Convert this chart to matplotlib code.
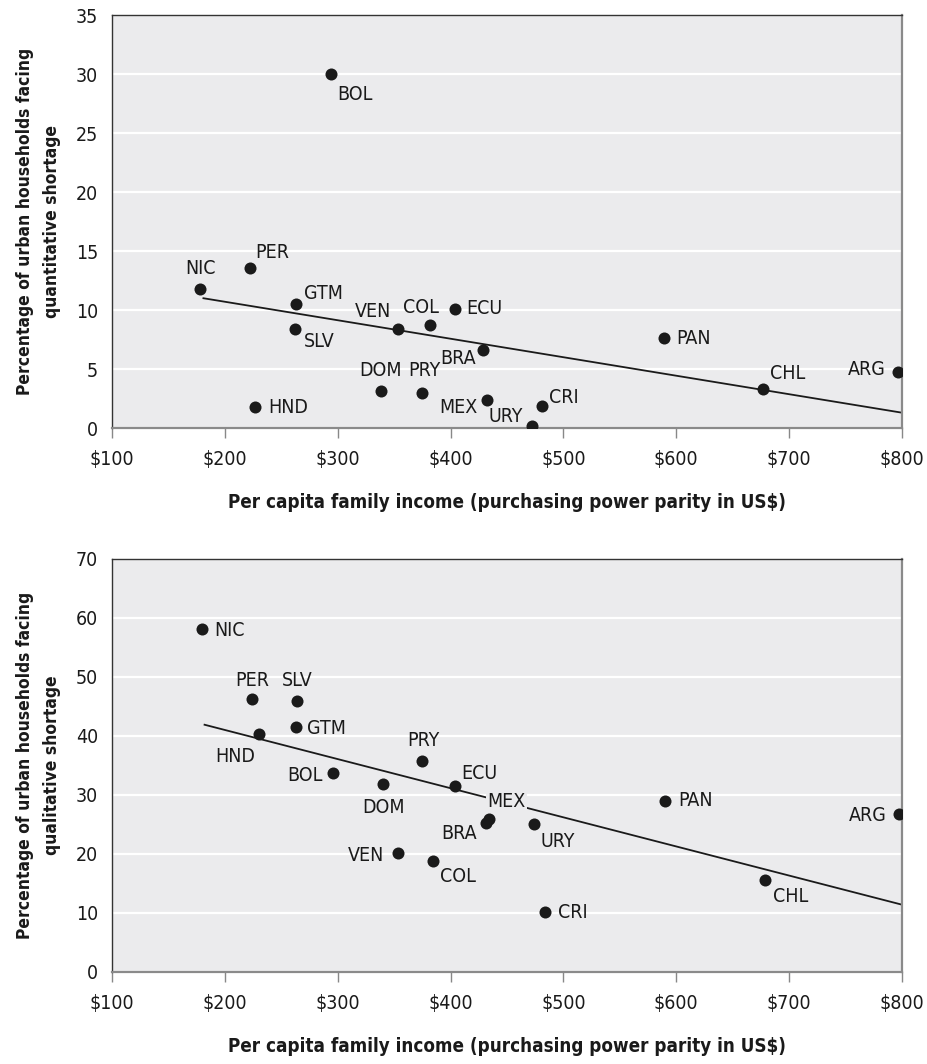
import matplotlib
matplotlib.use('Agg')
import matplotlib.pyplot as plt

plt.rcParams['font.family'] = ['DejaVu Sans']
plt.rcParams['font.stretch'] = 'condensed'

# data
countries_top = ['BOL', 'PER', 'NIC', 'GTM', 'SLV', 'VEN', 'COL', 'ECU', 'DOM', 'PRY',
                 'HND', 'BRA', 'MEX', 'URY', 'CRI', 'PAN', 'CHL', 'ARG']
income_top = [294, 222, 178, 263, 262, 353, 382, 404, 338, 375,
              227, 429, 432, 472, 481, 589, 677, 796]
quant_short = [30.0, 13.6, 11.8, 10.5, 8.4, 8.4, 8.7, 10.1, 3.1, 3.0,
               1.75, 6.6, 2.4, 0.2, 1.9, 7.6, 3.3, 4.75]
trend_top_x = [181, 800]
trend_top_y = [11.0, 1.3]

countries_bot = ['NIC', 'PER', 'SLV', 'GTM', 'HND', 'PRY', 'BOL', 'DOM', 'ECU', 'VEN',
                 'COL', 'BRA', 'MEX', 'URY', 'CRI', 'PAN', 'ARG', 'CHL']
income_bot = [180, 224, 264, 263, 230, 375, 296, 340, 404, 353,
              384, 431, 434, 474, 484, 590, 797, 679]
qual_short = [58.1, 46.2, 45.9, 41.5, 40.4, 35.7, 33.7, 31.8, 31.5, 20.1,
              18.8, 25.3, 26.0, 25.1, 10.2, 29.0, 26.8, 15.6]
trend_bot_x = [182, 800]
trend_bot_y = [41.9, 11.4]

x_ticks = [100, 200, 300, 400, 500, 600, 700, 800]
x_ticklabels = ['$100', '$200', '$300', '$400', '$500', '$600', '$700', '$800']

# label placement: (dx px, dy px downward, ha)
lab_top = {'BOL': (6, 20, 'left'), 'PER': (6, -15, 'left'), 'NIC': (0, -20, 'center'),
           'GTM': (8, -11, 'left'), 'SLV': (9, 13, 'left'), 'VEN': (-6, -17, 'right'),
           'COL': (-9, -18, 'center'), 'ECU': (11, 0, 'left'), 'DOM': (0, -21, 'center'),
           'PRY': (2, -22, 'center'), 'HND': (13, 0, 'left'), 'BRA': (-7, 8, 'right'),
           'MEX': (-9, 8, 'right'), 'URY': (-9, -9, 'right'), 'CRI': (7, -8, 'left'),
           'PAN': (12, 0, 'left'), 'CHL': (7, -16, 'left'), 'ARG': (-12, -2, 'right')}
lab_bot = {'NIC': (12, 1, 'left'), 'PER': (0, -19, 'center'), 'SLV': (0, -21, 'center'),
           'GTM': (11, 1, 'left'), 'HND': (-4, 23, 'right'), 'PRY': (1, -21, 'center'),
           'BOL': (-11, 2, 'right'), 'DOM': (1, 23, 'center'), 'ECU': (6, -13, 'left'),
           'VEN': (-13, 2, 'right'), 'COL': (7, 15, 'left'), 'BRA': (-9, 11, 'right'),
           'MEX': (-2, -17, 'left'), 'URY': (6, 18, 'left'), 'CRI': (13, 1, 'left'),
           'PAN': (13, 0, 'left'), 'ARG': (-12, 2, 'right'), 'CHL': (8, 17, 'left')}

fig = plt.figure(figsize=(9.28, 10.64), dpi=100)
ax1 = fig.add_axes([0.1207, 0.5977, 0.8513, 0.3882])
ax2 = fig.add_axes([0.1207, 0.0865, 0.8513, 0.3882])

xlabel = 'Per capita family income (purchasing power parity in US$)'


def draw(ax, x, y, names, tx, ty, labels, ymax, ystep, ylabel):
    ax.set_facecolor('#ebebed')
    ax.set_axisbelow(True)
    ax.grid(axis='y', color='white', linewidth=1.6)
    ax.plot(tx, ty, color='#1a1a1a', linewidth=1.3, zorder=2)
    ax.scatter(x, y, s=75, color='#1a1a1a', zorder=3, linewidths=0)
    for xi, yi, n in zip(x, y, names):
        dx, dy, ha = labels[n]
        box = None
        if ax is ax2 and n == 'MEX':
            box = dict(facecolor='#ebebed', edgecolor='none', pad=1)
        ax.annotate(n, (xi, yi), xytext=(dx, -dy), textcoords='offset pixels',
                    ha=ha, va='center', fontsize=14, color='#1a1a1a', bbox=box, zorder=4)
    ax.set_xlim(100, 800)
    ax.set_ylim(0, ymax)
    ax.set_xticks(x_ticks)
    ax.set_xticklabels(x_ticklabels)
    ax.set_yticks(range(0, ymax + 1, ystep))
    ax.tick_params(axis='x', length=7, width=1, color='#888888', pad=9, labelsize=14,
                   labelcolor='#1a1a1a')
    ax.tick_params(axis='y', length=0, pad=10, labelsize=14, labelcolor='#1a1a1a')
    for s in ['top', 'left']:
        ax.spines[s].set_color('#333333')
        ax.spines[s].set_linewidth(1)
    for s in ['right', 'bottom']:
        ax.spines[s].set_color('#8a8a8a')
        ax.spines[s].set_linewidth(1.6)
    ax.set_xlabel(xlabel, fontsize=13.5, fontweight='bold', labelpad=17, color='#1a1a1a')
    ax.set_ylabel(ylabel, fontsize=12.5, fontweight='bold', labelpad=11, color='#1a1a1a',
                  linespacing=1.6)


draw(ax1, income_top, quant_short, countries_top, trend_top_x, trend_top_y, lab_top, 35, 5,
     'Percentage of urban households facing\nquantitative shortage')
draw(ax2, income_bot, qual_short, countries_bot, trend_bot_x, trend_bot_y, lab_bot, 70, 10,
     'Percentage of urban households facing\nqualitative shortage')

fig.savefig('out.png', dpi=100)
